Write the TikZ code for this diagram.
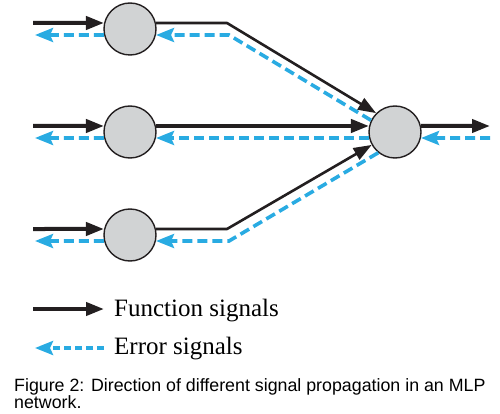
\documentclass[tikz,border=0pt]{standalone}
\usepackage{fontspec}
\setmainfont{Liberation Serif}
\newfontfamily\capfont{Liberation Sans}
\usetikzlibrary{arrows.meta}
\definecolor{sigblack}{RGB}{35,31,32}
\definecolor{sigblue}{RGB}{41,171,226}
\definecolor{cellgray}{RGB}{209,211,212}
\tikzset{
  neuron/.style={circle, draw=sigblack, line width=1.4pt, fill=cellgray, minimum size=52pt, inner sep=0pt},
  fsig/.style={draw=sigblack, line width=4pt, line join=round, -{Triangle[length=18pt,width=13pt]}},
  fthin/.style={fsig, line width=2.6pt},
  esig/.style={draw=sigblue, line width=3.6pt, dash pattern=on 10pt off 5pt, -{Stealth[length=18pt,width=14pt,inset=3pt]}},
  legtext/.style={anchor=base west, inner sep=0pt, font=\fontsize{25}{28}\selectfont}
}
\begin{document}
\begin{tikzpicture}[x=1pt, y=-1pt]
    \useasboundingbox (0,0) rectangle (500,414);
    \def\xl{130} \def\xr{395} \def\xb{227}

    % neurons
    \node[neuron] (h1) at (\xl,29) {};
    \node[neuron] (h2) at (\xl,132) {};
    \node[neuron] (h3) at (\xl,235) {};
    \node[neuron] (out) at (\xr,132) {};

    % free ends and bends
    \coordinate (in1) at (33,23);   \coordinate (er1) at (35,35);
    \coordinate (in2) at (33,126);  \coordinate (er2) at (35,138);
    \coordinate (in3) at (33,229);  \coordinate (er3) at (35,241);
    \coordinate (tb1) at (\xb,23);  \coordinate (te1) at (\xb+2,35);
    \coordinate (tb3) at (\xb,229); \coordinate (te3) at (\xb+2,241);
    \coordinate (o1) at (490,126);  \coordinate (o2) at (490,138);

    % inputs
    \draw[fsig] (in1) -- (h1.167); \draw[esig] (h1.193) -- (er1);
    \draw[fsig] (in2) -- (h2.167); \draw[esig] (h2.193) -- (er2);
    \draw[fsig] (in3) -- (h3.167); \draw[esig] (h3.193) -- (er3);

    % hidden to output
    \draw[fthin] (h1.13) -- (tb1) -- (out.135);
    \draw[esig] (out.154) -- (te1) -- (h1.-13);
    \draw[fsig] (h2.13) -- (out.167);
    \draw[esig] (out.193) -- (h2.-13);
    \draw[fthin] (h3.13) -- (tb3) -- (out.-151);
    \draw[esig] (out.-129) -- (te3) -- (h3.-13);

    % output
    \draw[fsig] (out.13) -- (o1);
    \draw[esig] (o2) -- (out.-13);

    % legend
    \coordinate (lf0) at (33,309);  \coordinate (lf1) at (104,309);
    \coordinate (le0) at (104,348); \coordinate (le1) at (35,348);
    \draw[fsig] (lf0) -- (lf1);
    \draw[esig, dash pattern=on 7pt off 4pt] (le0) -- (le1);
    \node[legtext] (ftext) at (114,316) {Function signals};
    \node[legtext] (etext) at (114,354) {Error signals};

    \node[anchor=base west, align=left, inner sep=0pt, font=\capfont\fontsize{17.8}{17}\selectfont] (cap) at (14,408)
        {Figure 2: Direction of different signal propagation in an MLP\\network.};
\end{tikzpicture}
\end{document}
